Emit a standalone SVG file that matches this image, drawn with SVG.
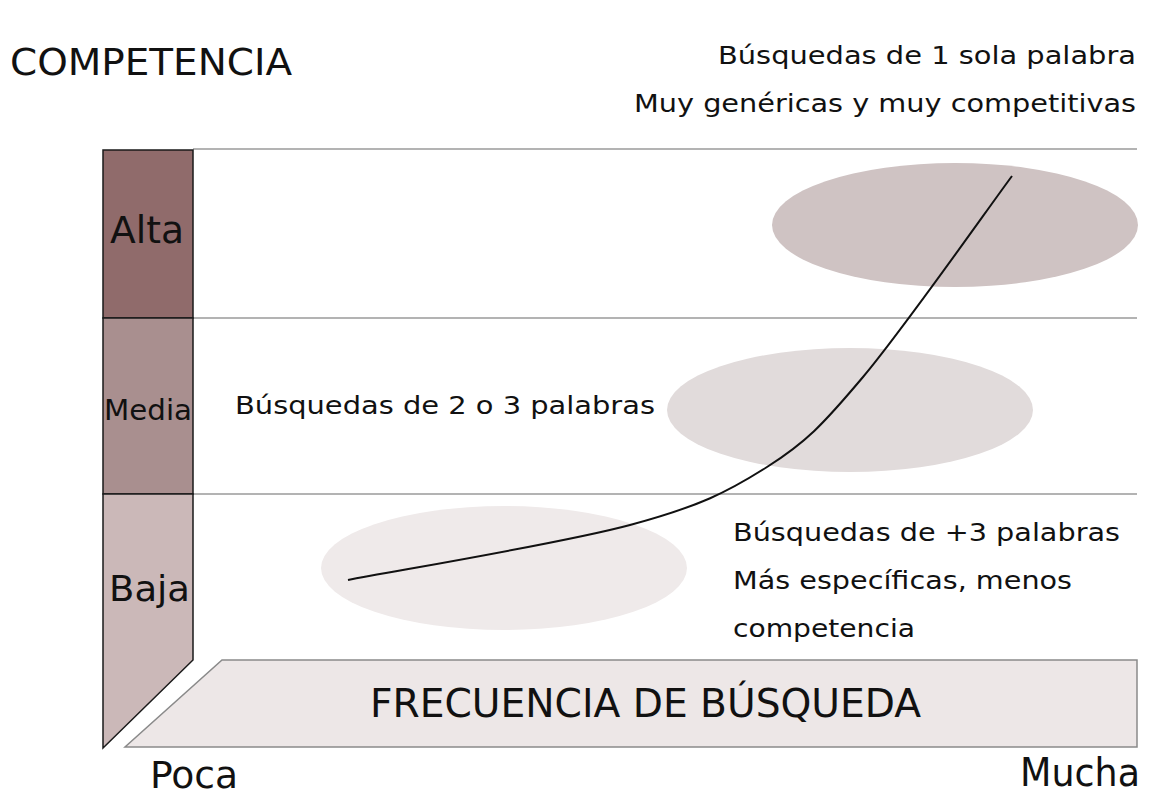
<svg xmlns="http://www.w3.org/2000/svg" width="1149" height="797" viewBox="0 0 1149 797">
<style>
  .t{font-family:"DejaVu Sans","Verdana",sans-serif;fill:#111}
  .c{font-family:"DejaVu Sans Condensed","DejaVu Sans",sans-serif;font-stretch:condensed;fill:#111}
  .grid{stroke:#9a9a9a;stroke-width:1.5;fill:none}
  .bar{stroke:#1a1a1a;stroke-width:1.5}
</style>
<rect width="1149" height="797" fill="#ffffff"/>

<g id="grid-lines">
  <line class="grid" x1="193" y1="149" x2="1137" y2="149"/>
  <line class="grid" x1="193" y1="318" x2="1137" y2="318"/>
  <line class="grid" x1="193" y1="494" x2="1137" y2="494"/>
</g>

<g id="ellipse-alta"><ellipse cx="955" cy="225" rx="183" ry="62" fill="#cfc3c3"/></g>
<g id="ellipse-media"><ellipse cx="850" cy="410" rx="183" ry="62" fill="#e1dbdb"/></g>
<g id="ellipse-baja"><ellipse cx="504" cy="568" rx="183" ry="62" fill="#efeaea"/></g>

<g id="axis-competencia">
  <rect id="alta" class="bar" x="103" y="150" width="90" height="168" fill="#906b6b"/>
  <rect id="media" class="bar" x="103" y="318" width="90" height="176" fill="#a98f8f"/>
  <path id="baja" class="bar" d="M103,494 H193 V660 L103,748 Z" fill="#cbb8b8"/>
  <text class="t" x="110" y="243" font-size="37" textLength="74" lengthAdjust="spacingAndGlyphs">Alta</text>
  <text class="t" x="104" y="420" font-size="29" textLength="88" lengthAdjust="spacingAndGlyphs">Media</text>
  <text class="t" x="109" y="601" font-size="36" textLength="81" lengthAdjust="spacingAndGlyphs">Baja</text>
</g>

<g id="axis-frecuencia">
  <path d="M222,660 H1137 V747 H125 Z" fill="#ede7e7" stroke="#8a8a8a" stroke-width="1.5"/>
  <text class="c" x="370" y="717" font-size="39" textLength="551" lengthAdjust="spacingAndGlyphs">FRECUENCIA DE BÚSQUEDA</text>
  <text class="c" x="150" y="788" font-size="38" textLength="88" lengthAdjust="spacingAndGlyphs">Poca</text>
  <text class="c" x="1020" y="786" font-size="39" textLength="120" lengthAdjust="spacingAndGlyphs">Mucha</text>
</g>

<g id="connectors">
  <path d="M348,580 C395,570.8 560.2,543.8 630,525 C699.8,506.2 728.2,491.7 767,467 C805.8,442.3 822.2,425.5 863,377 C903.8,328.5 987.2,209.5 1012,176" fill="none" stroke="#111" stroke-width="2"/>
</g>

<g id="labels">
  <text class="t" x="10" y="75" font-size="38" textLength="282" lengthAdjust="spacingAndGlyphs">COMPETENCIA</text>
  <text class="t" x="718" y="64" font-size="25" textLength="418" lengthAdjust="spacingAndGlyphs">Búsquedas de 1 sola palabra</text>
  <text class="t" x="634" y="112" font-size="25" textLength="502" lengthAdjust="spacingAndGlyphs">Muy genéricas y muy competitivas</text>
  <text class="t" x="235" y="414" font-size="25" textLength="420" lengthAdjust="spacingAndGlyphs">Búsquedas de 2 o 3 palabras</text>
  <text class="t" x="733" y="541" font-size="25" textLength="387" lengthAdjust="spacingAndGlyphs">Búsquedas de +3 palabras</text>
  <text class="t" x="733" y="589" font-size="25" textLength="339" lengthAdjust="spacingAndGlyphs">Más específicas, menos</text>
  <text class="t" x="733" y="637" font-size="25" textLength="182" lengthAdjust="spacingAndGlyphs">competencia</text>
</g>
</svg>
